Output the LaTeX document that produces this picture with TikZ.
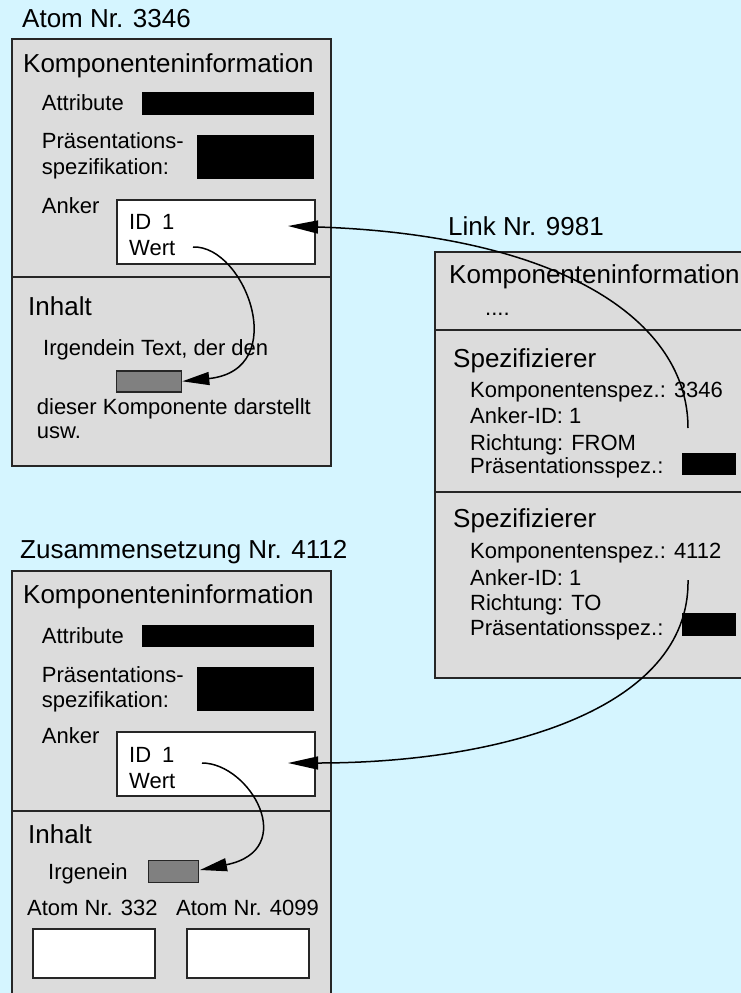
\documentclass[tikz,border=0pt]{standalone}
\usepackage{fontspec}
\setmainfont{Liberation Sans}
\usetikzlibrary{arrows.meta}
\definecolor{bgcyan}{RGB}{213,245,255}
\definecolor{boxgray}{RGB}{220,220,220}
\definecolor{midgray}{RGB}{128,128,128}
\tikzset{
  panel/.style={draw=black!85, line width=2pt, fill=boxgray},
  divider/.style={draw=black!85, line width=1.6pt},
  blackbar/.style={fill=black, draw=none, inner sep=0, anchor=north west},
  whitebox/.style={draw=black!85, line width=1.8pt, fill=white, inner sep=0, anchor=north west},
  graybox/.style={draw=black!85, line width=1.6pt, fill=midgray, inner sep=0, anchor=north west},
  bigtxt/.style={font=\fontsize{26}{30}\selectfont, anchor=base west, inner sep=0},
  txt/.style={font=\fontsize{22}{26}\selectfont, anchor=base west, inner sep=0},
  conn/.style={line width=1.5pt, -{Triangle[length=30pt,width=13pt]}},
  innerconn/.style={line width=1.5pt, -{Triangle[length=27pt,width=13pt]}}
}
\begin{document}
\begin{tikzpicture}[x=1pt,y=-1pt]
\clip (0,0) rectangle (741,993);
\fill[bgcyan] (0,0) rectangle (741,993);

% ---------- Atom Nr. 3346 ----------
\node[bigtxt] (t1) at (22,27.5) {Atom Nr. 3346};
\draw[panel] (11.5,39) rectangle (331,466);
\draw[divider] (11.5,277) -- (331,277);
\node[bigtxt] (a1ki) at (23,72) {Komponenteninformation};
\node[txt] (a1attr) at (41.7,110) {Attribute};
\node[blackbar, minimum width=172pt, minimum height=23pt] (a1attrbar) at (141.7,91.7) {};
\node[txt] (a1p1) at (41.7,148) {Präsentations-};
\node[txt] (a1p2) at (41.7,174) {spezifikation:};
\node[blackbar, minimum width=117pt, minimum height=44pt] (a1pbar) at (196.7,135) {};
\node[txt] (a1anker) at (41.7,213) {Anker};
\node[whitebox, minimum width=198pt, minimum height=64pt] (anc1) at (115.7,199) {};
\node[txt] (a1id) at (129,229) {ID\hspace{11pt}1};
\node[txt] (a1wert) at (129,255) {Wert};
\node[bigtxt] (a1inhalt) at (28,315) {Inhalt};
\node[txt] (a1l1) at (43,355) {Irgendein Text, der den};
\node[graybox, minimum width=65pt, minimum height=21pt] (g1) at (115.7,370) {};
\node[txt] (a1l2) at (36.7,414) {dieser Komponente darstellt};
\node[txt] (a1l3) at (36.7,438) {usw.};

% ---------- Link Nr. 9981 ----------
\node[bigtxt] (t2) at (448,235) {Link Nr. 9981};
\draw[panel] (435,252) rectangle (770,678);
\draw[divider] (435,330) -- (770,330);
\draw[divider] (435,492) -- (770,492);
\node[bigtxt] (lki) at (449,283) {Komponenteninformation};
\node[txt] (ldots) at (485,315) {....};
\node[bigtxt] (ls1) at (453,367) {Spezifizierer};
\node[txt] (ls1a) at (470,397) {Komponentenspez.: 3346};
\node[txt] (ls1b) at (470,423) {Anker-ID: 1};
\node[txt] (ls1c) at (470,450) {Richtung: FROM};
\node[txt] (ls1d) at (470,473) {Präsentationsspez.:};
\node[blackbar, minimum width=54pt, minimum height=22pt] (lbar1) at (682,453) {};
\node[bigtxt] (ls2) at (453,527) {Spezifizierer};
\node[txt] (ls2a) at (470,558) {Komponentenspez.: 4112};
\node[txt] (ls2b) at (470,585) {Anker-ID: 1};
\node[txt] (ls2c) at (470,610) {Richtung: TO};
\node[txt] (ls2d) at (470,635) {Präsentationsspez.:};
\node[blackbar, minimum width=54pt, minimum height=23pt] (lbar2) at (682,613) {};

% ---------- Zusammensetzung Nr. 4112 ----------
\node[bigtxt] (t3) at (20,558) {Zusammensetzung Nr. 4112};
\draw[panel] (11.7,571) rectangle (331,1010);
\draw[divider] (11.7,811) -- (331,811);
\node[bigtxt] (a2ki) at (23,603) {Komponenteninformation};
\node[txt] (a2attr) at (41.7,643) {Attribute};
\node[blackbar, minimum width=172pt, minimum height=22pt] (a2attrbar) at (141.7,625) {};
\node[txt] (a2p1) at (41.7,682) {Präsentations-};
\node[txt] (a2p2) at (41.7,707) {spezifikation:};
\node[blackbar, minimum width=117pt, minimum height=44pt] (a2pbar) at (196.7,667) {};
\node[txt] (a2anker) at (41.7,743) {Anker};
\node[whitebox, minimum width=198pt, minimum height=64pt] (anc2) at (115.7,731) {};
\node[txt] (a2id) at (129,762) {ID\hspace{11pt}1};
\node[txt] (a2wert) at (129,788) {Wert};
\node[bigtxt] (a2inhalt) at (28,843) {Inhalt};
\node[txt] (a2irg) at (48,879) {Irgenein};
\node[graybox, minimum width=50pt, minimum height=22pt] (g2) at (147.7,859.5) {};
\node[txt] (a2at1) at (27,915) {Atom Nr. 332};
\node[txt] (a2at2) at (176,915) {Atom Nr. 4099};
\node[whitebox, minimum width=122.5pt, minimum height=49pt] (sub1) at (31.7,928) {};
\node[whitebox, minimum width=122.5pt, minimum height=49pt] (sub2) at (185.7,928) {};

% ---------- connectors ----------
\coordinate (l1from) at (688,428);
\coordinate (anc1tip) at (288,226);
\coordinate (l2from) at (688,580);
\coordinate (anc2tip) at (288,763);
\coordinate (w1from) at (193,247);
\coordinate (g1tip) at (g1.east);
\coordinate (w2from) at (202,763);
\coordinate (g2tip) at (200,870);

\draw[conn] (l1from) .. controls (688,320) and (560,235) .. (anc1tip);
\draw[conn] (l2from) .. controls (690,710) and (500,763) .. (anc2tip);
\draw[innerconn] (w1from) .. controls (245,245) and (292,370) .. (g1tip);
\draw[innerconn] (w2from) .. controls (250,763) and (300,850) .. (g2tip);
\end{tikzpicture}
\end{document}
